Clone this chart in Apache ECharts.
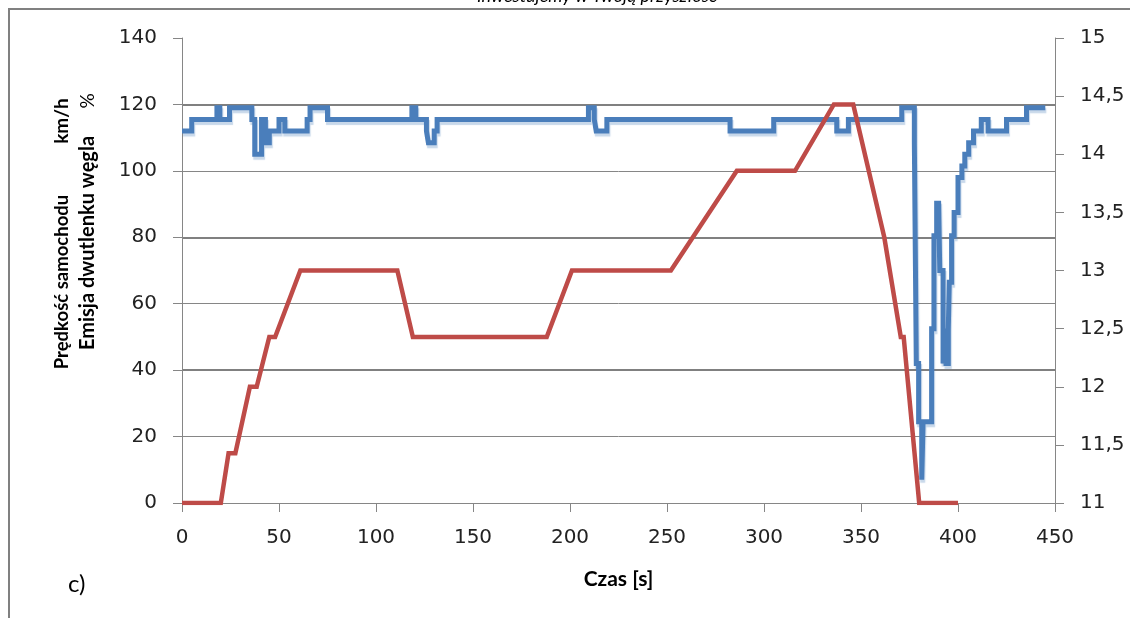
<!DOCTYPE html>
<html><head><meta charset="utf-8">
<script src="https://cdn.jsdelivr.net/npm/echarts@6/dist/echarts.min.js"></script>
<style>html,body{margin:0;padding:0;background:#fff;overflow:hidden}#c{width:1130px;height:618px}</style>
</head><body><div id="c"></div>
<script>
// Time axis (s)
const timeMin = 0, timeMax = 450, timeStep = 50;
// Left axis: vehicle speed (km/h)
const speedMin = 0, speedMax = 140, speedStep = 20;
// Right axis: CO2 emission (%)
const co2Min = 11, co2Max = 15, co2Step = 0.5;

// Speed profile (red) — time [s] and speed [km/h]
const speedTime = [0, 20, 24, 27.5, 35, 38.5, 45, 48, 61, 111, 119, 188, 201, 252, 286, 316, 336, 346, 362, 370.5, 372, 380, 400];
const speedKmh  = [0, 0, 15, 15, 35, 35, 50, 50, 70, 70, 50, 50, 70, 70, 100, 100, 120, 120, 80, 50, 50, 0, 0];

// CO2 emission (blue) — each value holds from its start time until the next
const co2Time = [0, 5, 18, 19.5, 24.5, 36, 37.5, 41, 43, 45, 50, 53, 64.5, 66, 75, 118.5, 120.5, 126, 127, 130, 131.5,
  209.5, 212.5, 213.5, 219, 282.5, 305, 337.5, 343.5, 371, 377.5, 378.5, 379.7, 381.3, 382, 386.4, 387.6, 389, 389.6, 390,
  390.6, 392.3, 393.2, 393.8, 395, 395.5, 396.7, 398, 400, 402, 403.5, 405.5, 408, 412, 415.5, 425, 435.3, 445];
const co2Pct = [14.2, 14.3, 14.4, 14.3, 14.4, 14.3, 14.0, 14.3, 14.1, 14.2, 14.3, 14.2, 14.3, 14.4, 14.3, 14.4, 14.3, 14.2, 14.1, 14.2, 14.3,
  14.4, 14.3, 14.2, 14.3, 14.2, 14.3, 14.2, 14.3, 14.4, 14.1, 12.2, 11.7, 11.2, 11.7, 12.5, 13.3, 13.6, 13.3, 13.6,
  13.0, 12.2, 12.5, 12.2, 12.5, 12.9, 13.3, 13.5, 13.8, 13.9, 14.0, 14.1, 14.2, 14.3, 14.2, 14.3, 14.4, 14.4];

const speedData = speedTime.map((t, i) => [t, speedKmh[i]]);
const co2Data = co2Time.map((t, i) => [t, co2Pct[i]]);

const gray = '#868686';
const tickFont = {fontFamily: 'DejaVu Sans', fontSize: 20, color: '#222'};
const chart = echarts.init(document.getElementById('c'), null, {renderer: 'canvas'});
chart.setOption({
  animation: false,
  backgroundColor: '#fff',
  grid: {left: 182, right: 75, top: 38, bottom: 115},
  xAxis: {
    type: 'value', min: timeMin, max: timeMax, interval: timeStep,
    name: 'Czas [s]', nameLocation: 'middle', nameGap: 66,
    nameTextStyle: {fontFamily: 'Lato', fontWeight: 'bold', fontSize: 21, color: '#000'},
    axisLine: {show: true, lineStyle: {color: gray, width: 1}},
    axisTick: {show: true, inside: false, length: 9, lineStyle: {color: gray}},
    axisLabel: Object.assign({margin: 25}, tickFont),
    splitLine: {show: false}
  },
  yAxis: [{
    type: 'value', min: speedMin, max: speedMax, interval: speedStep, position: 'left',
    axisLine: {show: true, lineStyle: {color: gray, width: 1}},
    axisTick: {show: true, inside: false, length: 9, lineStyle: {color: gray}},
    axisLabel: Object.assign({margin: 25}, tickFont),
    splitLine: {show: true, showMaxLine: false, lineStyle: {color: gray, width: 1}}
  }, {
    type: 'value', min: co2Min, max: co2Max, interval: co2Step, position: 'right',
    axisLine: {show: true, lineStyle: {color: gray, width: 1}},
    axisTick: {show: true, inside: false, length: 9, lineStyle: {color: gray}},
    axisLabel: Object.assign({margin: 25, formatter: v => String(v).replace('.', ',')}, tickFont),
    splitLine: {show: false}
  }, {
    // overlay axis only to render the slightly heavier gridlines seen at every second level
    type: 'value', min: speedMin, max: speedMax, interval: speedStep * 2, position: 'left',
    axisLine: {show: false}, axisTick: {show: false}, axisLabel: {show: false},
    splitLine: {show: true, showMinLine: false, showMaxLine: false, lineStyle: {color: '#808080', width: 2}}
  }],
  series: [{
    name: 'Emisja dwutlenku węgla', type: 'line', yAxisIndex: 1, data: co2Data, step: 'end',
    showSymbol: false, symbol: 'none',
    lineStyle: {color: '#4a7ebb', width: 5, cap: 'butt', join: 'miter',
      shadowColor: 'rgba(74,126,187,0.3)', shadowOffsetX: 1, shadowOffsetY: 3, shadowBlur: 1}
  }, {
    name: 'Prędkość samochodu', type: 'line', yAxisIndex: 0, data: speedData,
    showSymbol: false, symbol: 'none',
    lineStyle: {color: '#be4b48', width: 4.5, cap: 'butt', join: 'miter'}
  }],
  graphic: [
    {type: 'line', shape: {x1: 8, y1: 9, x2: 1130, y2: 9}, style: {stroke: '#808080', lineWidth: 2}},
    {type: 'line', shape: {x1: 9, y1: 8, x2: 9, y2: 618}, style: {stroke: '#808080', lineWidth: 2}},
    {type: 'text', x: 597, y: 5, style: {text: 'Inwestujemy w Twoją przyszłość', fontFamily: 'Lato', fontStyle: 'italic', fontSize: 18, fill: '#000', align: 'center', verticalAlign: 'bottom'}},
    {type: 'text', x: 62, y: 282, rotation: Math.PI / 2, style: {text: 'Prędkość samochodu', fontFamily: 'Lato', fontWeight: 'bold', fontSize: 18.5, fill: '#000', align: 'center', verticalAlign: 'middle'}},
    {type: 'text', x: 62, y: 121, rotation: Math.PI / 2, style: {text: 'km/h', fontFamily: 'Lato', fontWeight: 'bold', fontSize: 19, fill: '#000', align: 'center', verticalAlign: 'middle'}},
    {type: 'text', x: 88, y: 243, rotation: Math.PI / 2, style: {text: 'Emisja dwutlenku węgla', fontFamily: 'Lato', fontWeight: 'bold', fontSize: 20, fill: '#000', align: 'center', verticalAlign: 'middle'}},
    {type: 'text', x: 88, y: 101, rotation: Math.PI / 2, style: {text: '%', fontFamily: 'Lato', fontWeight: 'normal', fontSize: 19, fill: '#000', align: 'center', verticalAlign: 'middle'}},
    {type: 'text', x: 68, y: 584, style: {text: 'c)', fontFamily: 'Lato', fontSize: 24, fill: '#000', align: 'left', verticalAlign: 'middle'}}
  ]
});
</script>
</body></html>
